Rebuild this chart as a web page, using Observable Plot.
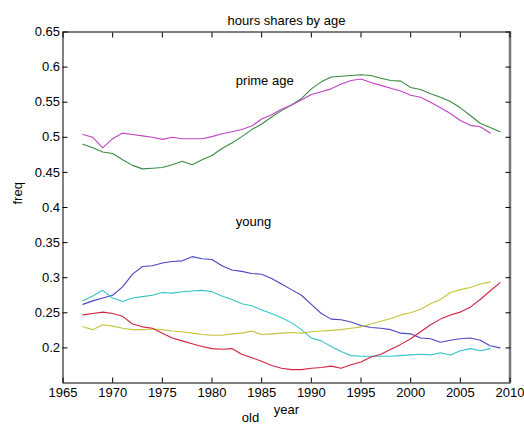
<!DOCTYPE html>
<html>
<head>
<meta charset="utf-8">
<script src="https://cdn.jsdelivr.net/npm/d3@7"></script>
<script src="https://cdn.jsdelivr.net/npm/@observablehq/plot@0.6"></script>
<style>
  html, body { margin: 0; padding: 0; background: #fff; }
  #chart svg { display: block; }
</style>
</head>
<body>
<div id="chart"></div>
<script>
// Annual hours shares, 1967 onward
const years = [1967, 1968, 1969, 1970, 1971, 1972, 1973, 1974, 1975, 1976,
  1977, 1978, 1979, 1980, 1981, 1982, 1983, 1984, 1985, 1986,
  1987, 1988, 1989, 1990, 1991, 1992, 1993, 1994, 1995, 1996,
  1997, 1998, 1999, 2000, 2001, 2002, 2003, 2004, 2005, 2006,
  2007, 2008, 2009];

// prime age (1967–2009 and 1967–2008)
const primeGreen = [0.490, 0.485, 0.479, 0.477, 0.468, 0.460, 0.455, 0.456, 0.457, 0.461,
  0.466, 0.461, 0.468, 0.474, 0.484, 0.492, 0.501, 0.511, 0.519, 0.529,
  0.538, 0.546, 0.555, 0.569, 0.579, 0.586, 0.587, 0.588, 0.589, 0.588,
  0.584, 0.581, 0.580, 0.571, 0.568, 0.562, 0.557, 0.551, 0.542, 0.531,
  0.520, 0.514, 0.508];
const primeMagenta = [0.504, 0.500, 0.485, 0.498, 0.506, 0.504, 0.502, 0.500, 0.497, 0.500,
  0.498, 0.498, 0.498, 0.501, 0.505, 0.508, 0.511, 0.516, 0.526, 0.532,
  0.540, 0.546, 0.553, 0.561, 0.565, 0.569, 0.576, 0.581, 0.583, 0.578,
  0.574, 0.570, 0.566, 0.560, 0.557, 0.550, 0.542, 0.534, 0.524, 0.517,
  0.515, 0.506];

// young
const youngBlue = [0.262, 0.267, 0.271, 0.275, 0.287, 0.305, 0.316, 0.317, 0.321, 0.323,
  0.324, 0.330, 0.327, 0.326, 0.317, 0.311, 0.309, 0.306, 0.305, 0.299,
  0.291, 0.283, 0.275, 0.262, 0.249, 0.241, 0.240, 0.237, 0.232, 0.229,
  0.228, 0.226, 0.221, 0.220, 0.214, 0.213, 0.208, 0.211, 0.213, 0.214,
  0.211, 0.203, 0.200];
const youngCyan = [0.267, 0.274, 0.282, 0.271, 0.266, 0.271, 0.273, 0.275, 0.279, 0.278,
  0.280, 0.281, 0.282, 0.280, 0.274, 0.269, 0.263, 0.260, 0.254, 0.249,
  0.243, 0.236, 0.226, 0.214, 0.210, 0.202, 0.195, 0.189, 0.188, 0.188,
  0.188, 0.188, 0.189, 0.190, 0.191, 0.190, 0.193, 0.190, 0.196, 0.199,
  0.196, 0.199];

// old
const oldYellow = [0.230, 0.226, 0.233, 0.231, 0.228, 0.226, 0.226, 0.227, 0.226, 0.224,
  0.223, 0.221, 0.219, 0.218, 0.218, 0.220, 0.221, 0.224, 0.219, 0.220,
  0.221, 0.222, 0.221, 0.223, 0.224, 0.225, 0.226, 0.228, 0.230, 0.234,
  0.238, 0.242, 0.247, 0.250, 0.255, 0.263, 0.269, 0.279, 0.283, 0.286,
  0.291, 0.294];
const oldRed = [0.247, 0.249, 0.251, 0.249, 0.245, 0.234, 0.230, 0.228, 0.221, 0.214,
  0.210, 0.206, 0.202, 0.199, 0.198, 0.199, 0.191, 0.186, 0.181, 0.175,
  0.171, 0.169, 0.169, 0.171, 0.172, 0.174, 0.171, 0.176, 0.180, 0.187,
  0.191, 0.198, 0.205, 0.213, 0.223, 0.233, 0.241, 0.247, 0.251, 0.258,
  0.269, 0.281, 0.293];

const xTicks = [1965, 1970, 1975, 1980, 1985, 1990, 1995, 2000, 2005, 2010];
const yTicks = [0.2, 0.25, 0.3, 0.35, 0.4, 0.45, 0.5, 0.55, 0.6, 0.65];

// in-plot group labels, placed in data coordinates
const groupLabels = [
  {year: 1982.4, value: 0.58, label: "prime age"},
  {year: 1982.4, value: 0.38, label: "young"},
  {year: 1983, value: 0.10, label: "old"}
];

const series = [
  {values: primeGreen, color: "#3a8a42"},
  {values: primeMagenta, color: "#c043c4"},
  {values: youngBlue, color: "#4b45c2"},
  {values: youngCyan, color: "#35c3c6"},
  {values: oldYellow, color: "#c6c43a"},
  {values: oldRed, color: "#d2233f"}
];

const toRows = s => s.values.map((v, i) => ({year: years[i], value: v}));
const fmtY = d => String(+d.toFixed(2));

const chart = Plot.plot({
  width: 524,
  height: 428,
  marginLeft: 62.5,
  marginRight: 14.5,
  marginTop: 31.5,
  marginBottom: 45.5,
  style: {
    fontFamily: "'Liberation Sans', Arial, Helvetica, sans-serif",
    fontSize: "13px",
    background: "#fff",
    color: "#000"
  },
  x: {domain: [1965, 2010]},
  y: {domain: [0.15, 0.65]},
  marks: [
    Plot.frame({stroke: "#000"}),
    Plot.ruleX([2010], {stroke: "#7a7a7a", strokeWidth: 2.5}),
    Plot.axisX({anchor: "bottom", ticks: xTicks, tickSize: -5, tickPadding: 10, tickFormat: d => String(d), label: null}),
    Plot.axisX({anchor: "top", ticks: xTicks, tickSize: -5, fill: "none", label: null}),
    Plot.axisY({anchor: "left", ticks: yTicks, tickSize: -5, tickPadding: 8, tickFormat: fmtY, label: null}),
    Plot.axisY({anchor: "right", ticks: yTicks, tickSize: -5, fill: "none", label: null}),
    ...series.map(s => Plot.line(toRows(s), {x: "year", y: "value", stroke: s.color, strokeWidth: 1.1})),
    Plot.text(groupLabels, {x: "year", y: "value", text: "label", textAnchor: "start", fontSize: 13}),
    Plot.text(["hours shares by age"], {frameAnchor: "top", dy: -16, fontSize: 13}),
    Plot.text(["year"], {frameAnchor: "bottom", dy: 31, fontSize: 13}),
    Plot.text(["freq"], {frameAnchor: "left", dx: -45.5, dy: -3, rotate: -90, fontSize: 13})
  ]
});

document.getElementById("chart").appendChild(chart);
</script>
</body>
</html>
